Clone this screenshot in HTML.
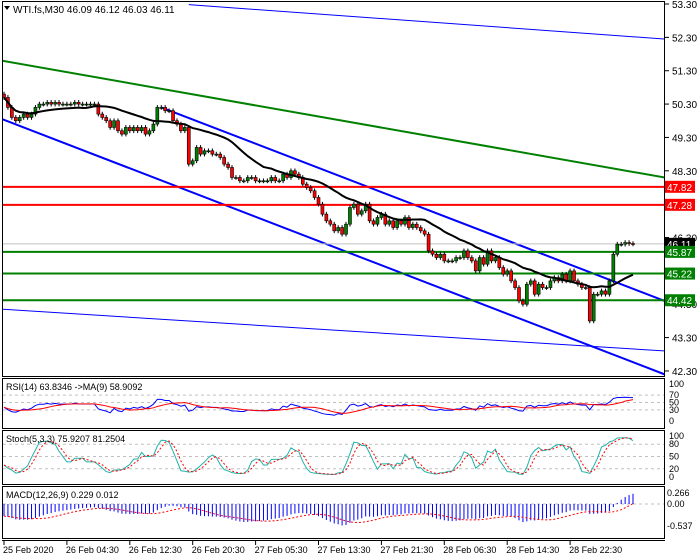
<!DOCTYPE html>
<html><head><meta charset="utf-8">
<style>
body{margin:0;background:#fff;}
svg{display:block;font-family:"Liberation Sans",sans-serif;}
</style></head>
<body>
<svg id="c" width="700" height="560" viewBox="0 0 700 560">
</svg>
<script>
// ---- data ----
const closes=[50.5,50.2,49.9,49.8,49.9,50.0,49.9,50.0,50.2,50.3,
50.3,50.35,50.3,50.35,50.3,50.3,50.3,50.3,50.35,50.3,
50.3,50.3,50.3,50.3,50.0,49.9,49.8,49.6,49.8,49.5,
49.4,49.6,49.5,49.6,49.5,49.6,49.4,49.5,49.7,50.2,
50.2,50.1,50.1,49.8,49.7,49.5,49.6,48.5,48.6,49.0,
48.8,48.9,48.9,48.8,48.8,48.7,48.5,48.4,48.1,48.1,
48.0,48.0,48.1,48.1,48.0,48.0,48.0,48.0,48.1,48.0,
48.0,48.2,48.1,48.3,48.2,48.1,47.9,47.8,47.7,47.5,
47.3,47.0,46.8,46.7,46.5,46.6,46.4,46.7,47.2,47.3,
47.0,47.1,47.3,46.8,46.7,46.9,47.0,46.7,46.8,46.6,
46.8,46.7,46.9,46.6,46.7,46.6,46.5,46.4,45.9,45.8,
45.7,45.8,45.6,45.6,45.6,45.7,45.7,45.9,45.7,45.6,
45.3,45.7,45.5,45.9,45.6,45.7,45.4,45.2,45.3,45.0,
44.8,44.4,44.3,44.9,45.0,44.6,44.9,44.8,44.8,45.0,
45.1,45.0,45.2,45.0,45.3,45.0,44.9,44.8,44.8,43.8,
44.6,44.6,44.7,44.6,45.0,45.8,46.1,46.1,46.15,46.12,46.11];
const priceTicks=[53.30,52.30,51.30,50.30,49.30,48.30,46.30,44.30,43.30,42.30];
const levelsRed=[47.82,47.28];
const levelsGreen=[45.87,45.22,44.42];
const currentPrice=46.11;
const dateLabels=["25 Feb 2020","26 Feb 04:30","26 Feb 12:30","26 Feb 20:30","27 Feb 05:30","27 Feb 13:30","27 Feb 21:30","28 Feb 06:30","28 Feb 14:30","28 Feb 22:30"];
const dateBars=[0,16,32,48,64,80,96,112,128,144];
// trend lines: [bar index, price] pairs
const trendLines=[
 {a:[47,53.28],b:[168,52.25],c:"#0000ff",w:1},
 {a:[-0.5,51.6],b:[168,48.1],c:"#008000",w:2},
 {a:[40,50.2],b:[168,44.4],c:"#0000ff",w:2},
 {a:[-0.5,49.85],b:[168,42.2],c:"#0000ff",w:2},
 {a:[-0.5,44.15],b:[168,42.9],c:"#0000ff",w:1}
];
// ---- scales ----
const svg=document.getElementById('c');
const NS="http://www.w3.org/2000/svg";
const step=629/(closes.length-1);
const xB=i=>4+i*step;
const yP=p=>4+(53.3-p)*33.36;
const yR=v=>421-v*0.37;
const yS=v=>477-v*0.41;
const yM=v=>504-v*41.35;
function el(t,a,parent){const e=document.createElementNS(NS,t);for(const k in a)e.setAttribute(k,a[k]);(parent||svg).appendChild(e);return e;}
function txt(x,y,s,a){const e=el('text',Object.assign({x:x,y:y,'font-size':'10',fill:'#000'},a||{}));e.textContent=s;return e;}
// ---- panels ----
const main=el('g',{});


el('rect',{x:2.5,y:1.5,width:662,height:375,fill:'#fff',stroke:'#000'},main);
const panels=[[378.5,50,'rsi-panel'],[430.5,54,'stoch-panel'],[486.5,52,'macd-panel']];
panels.forEach(p=>{const r=el('rect',{x:2.5,y:p[0],width:662,height:p[1],fill:'#fff',stroke:'#000'});});
el('line',{x1:2,y1:540.5,x2:665,y2:540.5,stroke:'#000'});
const defs=el('defs',{});
const cp=el('clipPath',{id:'cm'},defs);el('rect',{x:3,y:2,width:661,height:374},cp);
const g=el('g',{'clip-path':'url(#cm)'});
priceTicks.forEach(p=>{const y=yP(p);el('line',{x1:665,y1:y,x2:669,y2:y,stroke:'#000'});const t=txt(672,y+4,p.toFixed(2));});
trendLines.forEach(t=>{const l=el('line',{x1:xB(t.a[0]),y1:yP(t.a[1]),x2:xB(t.b[0]),y2:yP(t.b[1]),stroke:t.c,'stroke-width':t.w},g);});
el('line',{x1:2,y1:yP(currentPrice),x2:665,y2:yP(currentPrice),stroke:'#c0c0c0'},g);
levelsRed.forEach(p=>{const l=el('line',{x1:2,y1:yP(p),x2:665,y2:yP(p),stroke:'#ff0000','stroke-width':2},g);});
levelsGreen.forEach(p=>{const l=el('line',{x1:2,y1:yP(p),x2:665,y2:yP(p),stroke:'#008000','stroke-width':2},g);});
const O=[],H=[],L=[];
closes.forEach((c,i)=>{const o=i?closes[i-1]:c+0.1;O.push(o);H.push(Math.max(o,c)+0.07);L.push(Math.min(o,c)-0.07);});
closes.forEach((c,i)=>{const x=xB(i),o=O[i];const cg=el('g',{},g);


el('line',{x1:x,y1:yP(H[i]),x2:x,y2:yP(L[i]),stroke:'#000'},cg);
const top=yP(Math.max(o,c)),bot=yP(Math.min(o,c));
el('rect',{x:x-1.5,y:top,width:3,height:Math.max(1,bot-top),fill:c>=o?'#008000':'#ff0000',stroke:'#000','stroke-width':0.6},cg);});
const maP=20;let pts=[];
closes.forEach((c,i)=>{const s=closes.slice(Math.max(0,i-maP+1),i+1);const m=s.reduce((a,b)=>a+b,0)/s.length;pts.push(xB(i)+','+yP(m));});
const ma=el('polyline',{points:pts.join(' '),fill:'none',stroke:'#000','stroke-width':2},g);

function box(p,bg,fg,name){const y=yP(p);const r=el('rect',{x:665,y:y-6,width:30,height:12,fill:bg});txt(667,y+4,p.toFixed(2),{fill:fg});}
box(currentPrice,'#000','#fff','current-price-label');
levelsRed.forEach(p=>box(p,'#ff0000','#fff','resistance-label'));
levelsGreen.forEach(p=>box(p,'#008000','#fff','support-label'));
el('polygon',{points:'4,6 10,6 7,10',fill:'#000'});
const ti=txt(13,13,'WTI.fs,M30  46.09 46.12 46.03 46.11',{'font-size':'10'});
// ---- indicators computed from closes ----
const rsi=[];let ag=0,al=0;const rp=14;
closes.forEach((c,i)=>{const d=c-O[i];const gn=Math.max(d,0),ls=Math.max(-d,0);if(i==0){ag=0.04;al=0.06;}ag=(ag*(rp-1)+gn)/rp;al=(al*(rp-1)+ls)/rp;rsi.push(100-100/(1+ag/al));});
const sm=(a,n)=>a.map((v,i)=>{const s=a.slice(Math.max(0,i-n+1),i+1);return s.reduce((x,y)=>x+y,0)/s.length;});
const rsiMa=sm(rsi,9);
const kRaw=closes.map((c,i)=>{const h=Math.max(...H.slice(Math.max(0,i-4),i+1)),l=Math.min(...L.slice(Math.max(0,i-4),i+1));return 100*(c-l)/(h-l);});
const kS=sm(kRaw,3),dS=sm(kS,3);
const ema=(a,n,seed)=>{const k=2/(n+1);let e=a[0]+seed;return a.map(v=>e=v*k+e*(1-k));};
const e12=ema(closes,12,0.2),e26=ema(closes,26,0.5);
const macd=closes.map((c,i)=>e12[i]-e26[i]);
const sig=sm(macd,9);
function dash(y){el('line',{x1:3,y1:y,x2:664,y2:y,stroke:'#c0c0c0','stroke-dasharray':'3,3'});}
[70,50,30].forEach(v=>dash(yR(v)));[80,50,20].forEach(v=>dash(yS(v)));dash(yM(0));
function line(arr,yf,col,name,dsh){const p=arr.map((v,i)=>xB(i)+','+yf(v)).join(' ');const l=el('polyline',Object.assign({points:p,fill:'none',stroke:col,'stroke-width':1},dsh?{'stroke-dasharray':'2,2'}:{}));}
line(rsi,yR,'#0000ff','rsi-line');line(rsiMa,yR,'#ff0000','rsi-ma-line');
line(kS,yS,'#20b2aa','stoch-main-line');line(dS,yS,'#ff0000','stoch-signal-line',true);
macd.forEach((v,i)=>{const b=el('line',{x1:xB(i),y1:yM(0),x2:xB(i),y2:yM(v),stroke:'#0000ff'});});
line(sig,yM,'#ff0000','macd-signal-line',true);
txt(6,390,'RSI(14) 63.8346  ->MA(9) 58.9092',{'font-size':'9'});
txt(6,442,'Stoch(5,3,3) 75.9207 81.2504',{'font-size':'9'});
txt(6,498,'MACD(12,26,9) 0.229 0.012',{'font-size':'9'});
[[100,'100'],[70,'70'],[50,'50'],[30,'30'],[0,'0']].forEach(t=>txt(669,yR(t[0])+3,t[1],{'font-size':'9'}));
[[100,'100'],[80,'80'],[50,'50'],[20,'20'],[0,'0']].forEach(t=>txt(669,yS(t[0])+3,t[1],{'font-size':'9'}));
[[0.266,'0.266'],[0,'0.00'],[-0.537,'-0.537']].forEach(t=>txt(667,yM(t[0])+3,t[1],{'font-size':'9'}));
dateLabels.forEach((d,i)=>{const x=xB(dateBars[i]);el('line',{x1:x,y1:540,x2:x,y2:545,stroke:'#000'});const t=txt(x-1,553,d,{'font-size':'9'});});
</script>
</body></html>
